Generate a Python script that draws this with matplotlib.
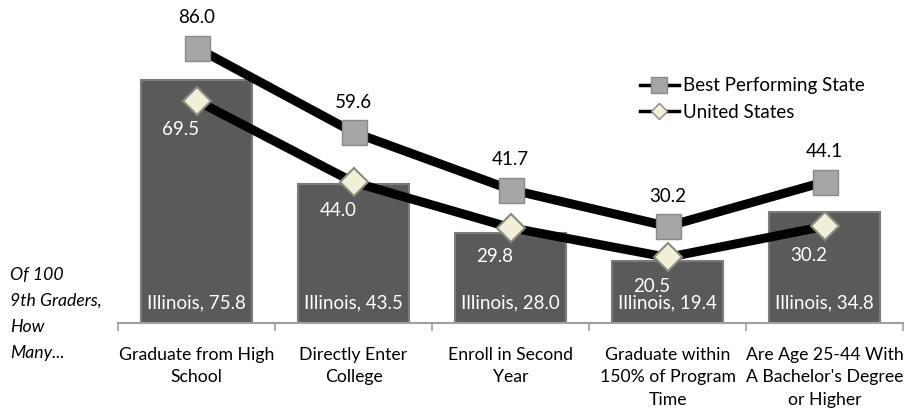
import matplotlib
matplotlib.use("Agg")
import matplotlib.pyplot as plt
from matplotlib.lines import Line2D
import numpy as np

categories = ["Graduate from High\nSchool", "Directly Enter\nCollege", "Enroll in Second\nYear",
              "Graduate within\n150% of Program\nTime", "Are Age 25-44 With\nA Bachelor's Degree\nor Higher"]
illinois = [75.8, 43.5, 28.0, 19.4, 34.8]
best_state = [86.0, 59.6, 41.7, 30.2, 44.1]
united_states = [69.5, 44.0, 29.8, 20.5, 30.2]

plt.rcParams['font.family'] = ['Lato', 'DejaVu Sans']
FS = 13.5
TFS = 12.7

fig = plt.figure(figsize=(9.05, 4.11), dpi=100)
ax = fig.add_axes([118/905, 88/411, 785/905, 320/411])
x = np.arange(len(categories))

ax.bar(x, illinois, width=0.71, color="#5a5a5a", edgecolor="#7c7c7c", linewidth=1.5, zorder=2)
for xi, v in zip(x, illinois):
    ax.text(xi, 6.3, f"Illinois, {v:.1f}", ha="center", va="center", color="white", fontsize=FS, zorder=5)

ax.plot(x, best_state, color="black", lw=6.5, marker="s", markersize=18,
        markerfacecolor="#a6a6a6", markeredgecolor="#8a8a8a", markeredgewidth=1, zorder=3)
ax.plot(x, united_states, color="black", lw=6.5, marker="D", markersize=14,
        markerfacecolor="#f2efd8", markeredgecolor="#8a8a80", markeredgewidth=1.5, zorder=4)

for xi, v in zip(x, best_state):
    ax.text(xi, v + 9.4, f"{v:.1f}", ha="center", va="center", fontsize=FS, color="black", zorder=5)
for xi, v in zip(x, united_states):
    ax.text(xi - 0.1, v - 9.0, f"{v:.1f}", ha="center", va="center", fontsize=FS, color="white", zorder=5)

ax.set_xlim(-0.5, 4.5)
ax.set_ylim(0, 100)
ax.set_yticks([])
for s in ["top", "right", "left"]:
    ax.spines[s].set_visible(False)
ax.spines["bottom"].set_color("#a0a0a0")
ax.spines["bottom"].set_linewidth(1.5)
ax.set_xticks(x)
ax.set_xticklabels(categories, fontsize=TFS, linespacing=1.5, va="top")
ax.tick_params(axis="x", length=0, pad=17)
ax.set_xticks(np.arange(-0.5, 5.0, 1.0), minor=True)
ax.tick_params(axis="x", which="minor", length=6, color="#a0a0a0", width=1.2, direction="out")

fig.text(10/905, 1 - 314/411, "Of 100\n9th Graders,\nHow\nMany...", ha="left", va="center",
         fontsize=TFS, style="italic", linespacing=1.75)

handles = [Line2D([], [], color="black", lw=2.5, marker="s", markersize=12,
                  markerfacecolor="#a6a6a6", markeredgecolor="#8a8a8a"),
           Line2D([], [], color="black", lw=2.5, marker="D", markersize=8,
                  markerfacecolor="#f2efd8", markeredgecolor="#8a8a80")]
ax.legend(handles, ["Best Performing State", "United States"], loc="upper left",
          bbox_to_anchor=((632 - 118) / 785, (323 - 70) / 320), frameon=False, fontsize=FS,
          handlelength=2.1, handletextpad=0.2, labelspacing=0.5, borderaxespad=0)

fig.savefig("out.png", dpi=100)
